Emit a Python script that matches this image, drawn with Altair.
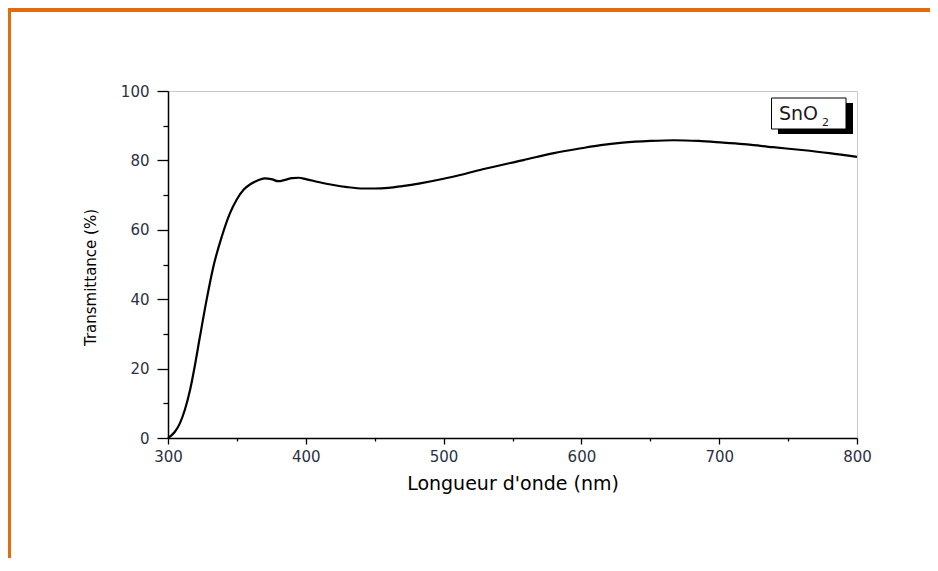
import altair as alt
import pandas as pd

# ---- data ----
wavelength_nm = [300, 302, 305, 308.7, 312.3, 316, 319, 323, 328, 333, 339, 345, 350,
                 355, 360, 365, 370, 375, 380, 385, 390, 395, 400, 410, 420, 430, 442,
                 450, 460, 470, 483, 500, 512, 530, 558, 580, 600, 614, 630, 650, 667,
                 685, 703, 720, 739, 760, 780, 800]
transmittance_pct = [0, 0.6, 1.8, 4.3, 8.2, 13.8, 19.8, 28.8, 39.8, 49.5, 58, 64.8, 68.8,
                     71.6, 73.2, 74.2, 74.8, 74.6, 74.0, 74.4, 74.9, 75.0, 74.6, 73.7, 72.9,
                     72.3, 71.9, 71.9, 72.1, 72.6, 73.4, 74.7, 75.8, 77.6, 80.1, 82.1, 83.5,
                     84.4, 85.1, 85.6, 85.8, 85.6, 85.1, 84.6, 83.8, 83.0, 82.1, 81.0]

x_ticks = list(range(300, 801, 50))
y_ticks = list(range(0, 101, 10))
x_title = "Longueur d'onde (nm)"
y_title = "Transmittance (%)"
legend_main = "SnO"
legend_sub = "2"

df = pd.DataFrame({"wavelength": wavelength_nm, "T": transmittance_pct})

W, H = 689, 347
FONT = "DejaVu Sans"
LABEL_COLOR = "#2b3245"
ORANGE = "#E36C0A"

curve = alt.Chart(df).mark_line(color="black", strokeWidth=2.2, interpolate="monotone").encode(
    x=alt.X("wavelength:Q",
            scale=alt.Scale(domain=[300, 800], nice=False, zero=False),
            axis=alt.Axis(values=x_ticks,
                          labelExpr="datum.value % 100 === 0 ? datum.label : ''",
                          tickSize={"condition": {"test": "datum.value % 100 === 0", "value": 6}, "value": 3},
                          grid=False, domainColor="black", domainWidth=1.5,
                          tickColor="black", tickWidth=1.3,
                          labelFont=FONT, labelFontSize=15, labelColor=LABEL_COLOR,
                          labelPadding=5, labelFlush=False,
                          title=x_title, titleFont=FONT, titleFontSize=19,
                          titleFontWeight="normal", titleColor="black", titlePadding=10)),
    y=alt.Y("T:Q",
            scale=alt.Scale(domain=[0, 100], nice=False, zero=False),
            axis=alt.Axis(values=y_ticks,
                          labelExpr="datum.value % 20 === 0 ? datum.label : ''",
                          tickSize={"condition": {"test": "datum.value % 20 === 0", "value": 11}, "value": 5},
                          grid=False, domainColor="black", domainWidth=1.5,
                          tickColor="black", tickWidth=1.3,
                          labelFont=FONT, labelFontSize=15, labelColor=LABEL_COLOR,
                          labelPadding=8, labelFlush=False,
                          title=y_title, titleFont=FONT, titleFontSize=15,
                          titleFontWeight="normal", titleColor="black", titlePadding=22,
                          titleY=186)),
)

one = alt.Data(values=[{"k": 1}])

frame_top = alt.Chart(one).mark_rule(color=ORANGE, strokeWidth=4).encode(
    x=alt.value(-160), x2=alt.value(800), y=alt.value(-81))
frame_left = alt.Chart(one).mark_rule(color=ORANGE, strokeWidth=3).encode(
    x=alt.value(-158.5), y=alt.value(-83), y2=alt.value(480))

shadow = alt.Chart(one).mark_rect(color="black").encode(
    x=alt.value(610), x2=alt.value(685), y=alt.value(12), y2=alt.value(43))
box = alt.Chart(one).mark_rect(fill="white", stroke="black", strokeWidth=1).encode(
    x=alt.value(603.5), x2=alt.value(678), y=alt.value(7), y2=alt.value(38))
txt_main = alt.Chart(one).mark_text(font=FONT, fontSize=19, color="#1a1a1a",
                                    align="left", baseline="alphabetic").encode(
    x=alt.value(611), y=alt.value(29), text=alt.value(legend_main))
txt_sub = alt.Chart(one).mark_text(font=FONT, fontSize=11, color="#1a1a1a",
                                   align="left", baseline="alphabetic").encode(
    x=alt.value(654), y=alt.value(35), text=alt.value(legend_sub))

chart = alt.layer(curve, frame_top, frame_left, shadow, box, txt_main, txt_sub).properties(
    width=W, height=H,
    autosize=alt.AutoSizeParams(type="none"),
    padding={"left": 160, "top": 83, "right": 73, "bottom": 120},
    background="white",
).configure_view(stroke="#c8c8c8", strokeWidth=1)

chart.save("out.html", embed_options={"renderer": "svg", "actions": False})
